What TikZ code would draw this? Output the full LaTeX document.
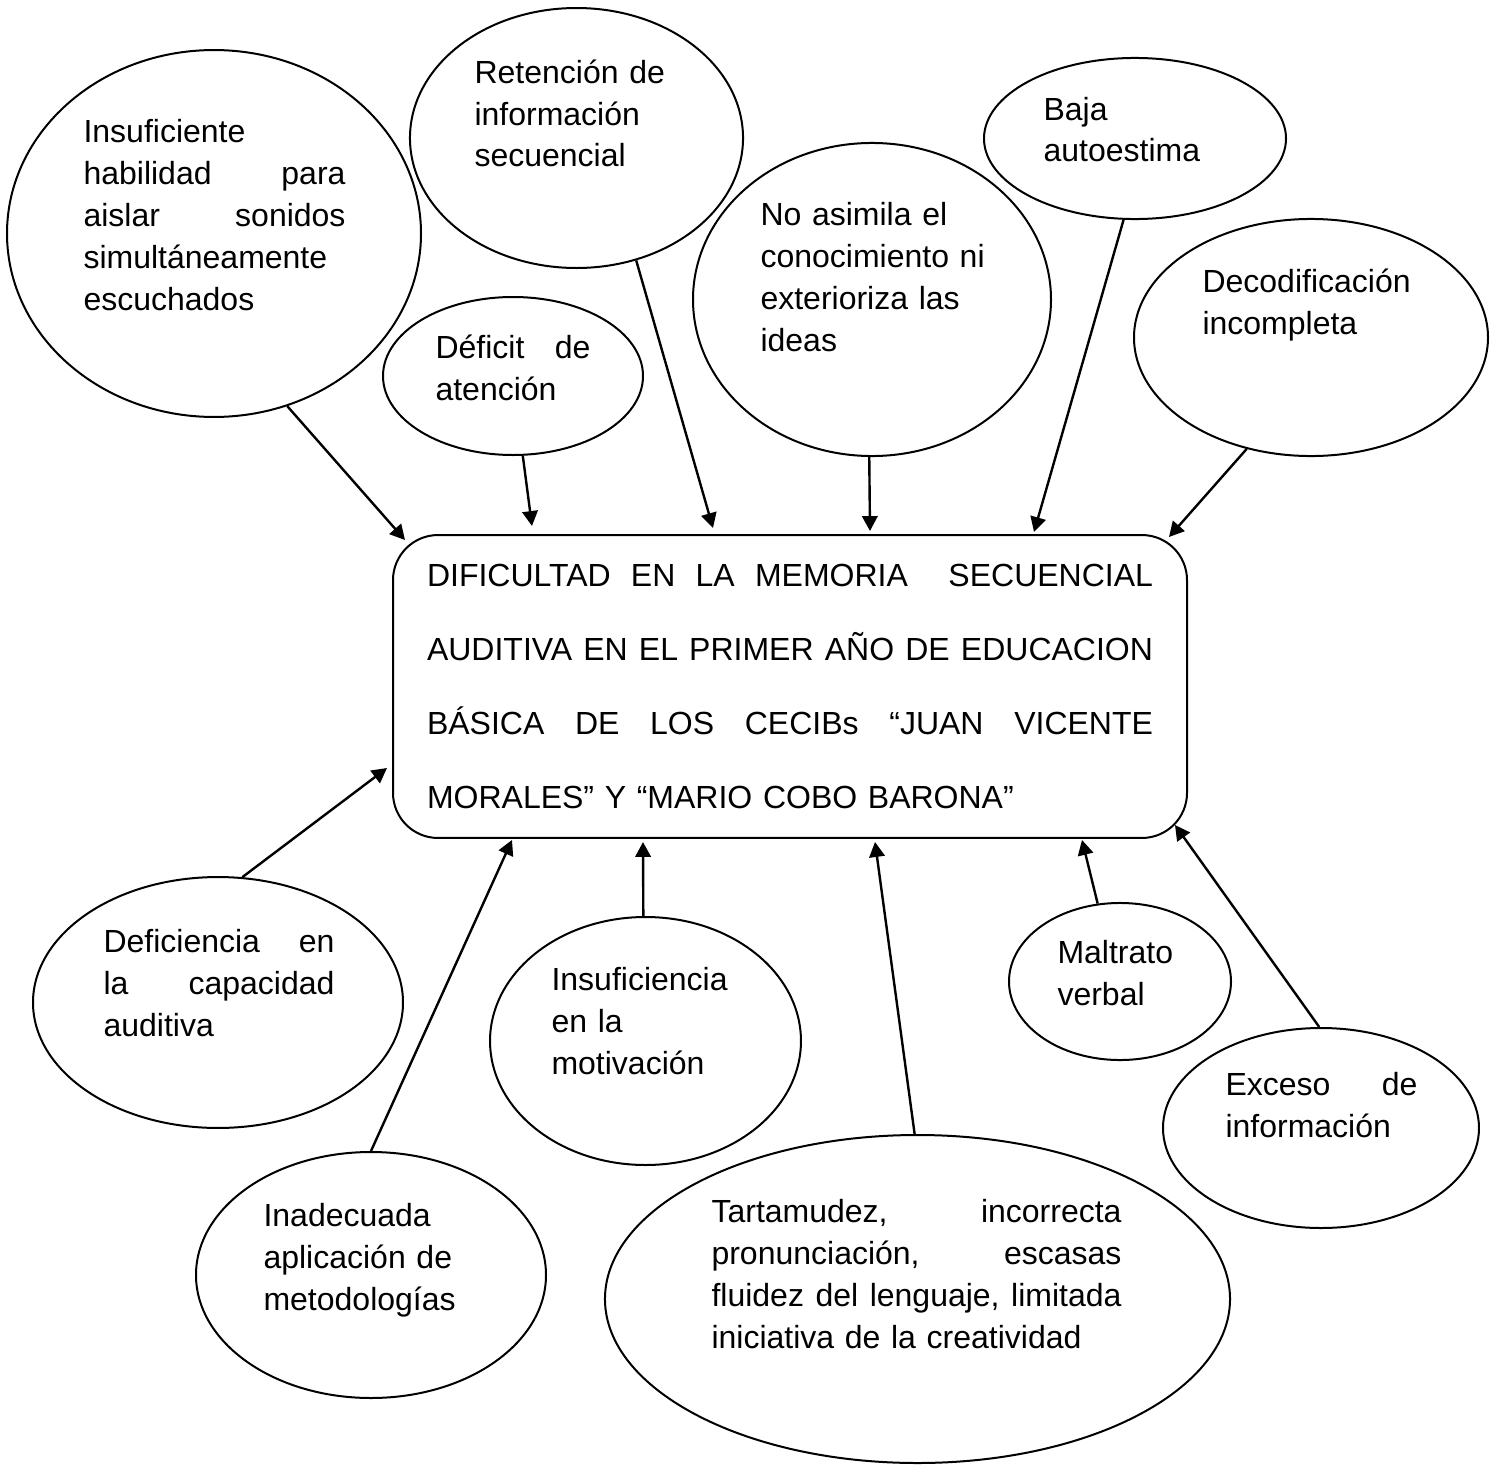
\documentclass[tikz,border=0pt]{standalone}
\usepackage{fontspec}
\setmainfont{Liberation Sans}
\usetikzlibrary{arrows.meta, shapes.geometric}

\begin{document}
\begin{tikzpicture}[
  x=0.375pt, y=-0.375pt,
  cause/.style={ellipse, draw, line width=0.75pt, inner sep=0pt},
  txt/.style={anchor=base west, inner sep=0pt, align=left, text width=110pt, font=\fontsize{12}{15.75}\selectfont},
  box/.style={rectangle, draw, rounded corners=16.9pt, line width=0.75pt, minimum width=297.75pt, minimum height=113.6pt, text width=272.25pt, align=left, font=\fontsize{12}{27.75}\selectfont},
  arrow/.style={-{Triangle[length=5.6pt, width=5.8pt]}, line width=0.9pt}
]
\useasboundingbox (0,0) rectangle (1500,1467);

% central problem
\node[box] (DM) at (790,686.5) {DIFICULTAD\hfill EN\hfill LA\hfill MEMORIA\hfill\hfill SECUENCIAL\\
AUDITIVA\hfill EN\hfill EL\hfill PRIMER\hfill AÑO\hfill DE\hfill EDUCACION\\
BÁSICA\hfill DE\hfill LOS\hfill CECIBs\hfill “JUAN\hfill VICENTE\\
MORALES” Y “MARIO COBO BARONA”};

% causes above the box
\node[cause, minimum width=155.25pt, minimum height=137.6pt] (IH) at (214,233.5) {};
\node[txt, text width=98.25pt] (IHt) at (83,142) {Insuficiente\\ habilidad\hfill para\\ aislar\hfill sonidos\\ simultáneamente\\ escuchados};

\node[cause, minimum width=124.9pt, minimum height=97.5pt] (RI) at (576.5,138) {};
\node[txt] (RIt) at (474,83) {Retención de\\ información\\ secuencial};

\node[cause, minimum width=97.5pt, minimum height=59.25pt] (DA) at (513,376) {};
\node[txt, text width=58.1pt] (DAt) at (435,358) {Déficit\hfill de\\ atención};

\node[cause, minimum width=134.25pt, minimum height=117.4pt] (NA) at (872,299.5) {};
\node[txt] (NAt) at (760,225) {No asimila el\\ conocimiento ni\\ exterioriza las\\ ideas};

\node[cause, minimum width=113.25pt, minimum height=60.4pt] (BA) at (1135,138.5) {};
\node[txt] (BAt) at (1043,120) {Baja\\ autoestima};

\node[cause, minimum width=132.75pt, minimum height=88.9pt] (DI) at (1311,337.5) {};
\node[txt] (DIt) at (1202,292) {Decodificación\\ incompleta};

% causes below the box
\node[cause, minimum width=138.75pt, minimum height=94.1pt] (CA) at (218,1002.5) {};
\node[txt, text width=86.6pt] (CAt) at (103,952) {Deficiencia\hfill en\\ la\hfill capacidad\\ auditiva};

\node[cause, minimum width=116.6pt, minimum height=93pt] (IM) at (645.5,1041) {};
\node[txt] (IMt) at (551,990) {Insuficiencia\\ en la\\ motivación};

\node[cause, minimum width=83.25pt, minimum height=58.9pt] (MV) at (1120,981.5) {};
\node[txt] (MVt) at (1057,963) {Maltrato\\ verbal};

\node[cause, minimum width=118.5pt, minimum height=75pt] (EI) at (1321,1128) {};
\node[txt, text width=72pt] (EIt) at (1225,1095) {Exceso\hfill de\\ información};

\node[cause, minimum width=131.25pt, minimum height=92.25pt] (AM) at (371,1275) {};
\node[txt] (AMt) at (263,1226) {Inadecuada\\ aplicación de\\ metodologías};

\node[cause, minimum width=234.4pt, minimum height=123pt] (TL) at (917.5,1299) {};
\node[txt, text width=153.75pt] (TLt) at (711,1222) {Tartamudez,\hfill incorrecta\\ pronunciación,\hfill escasas\\ fluidez\hfill del\hfill lenguaje,\hfill limitada\\ iniciativa de la creatividad};

% arrow tips next to the box
\coordinate (tIH) at (405,540);
\coordinate (tDA) at (532,526);
\coordinate (tRI) at (713,528);
\coordinate (tNA) at (870,531);
\coordinate (tBA) at (1034,532);
\coordinate (tDI) at (1169,537);
\coordinate (tCA) at (387,768);
\coordinate (tAM) at (512,840);
\coordinate (tIM) at (643,842);
\coordinate (tTL) at (875,842);
\coordinate (tMV) at (1082,840);
\coordinate (tEI) at (1175,825);

\draw[arrow] (IH.-67.7) -- (tIH);
\draw[arrow] (DA.-83) -- (tDA);
\draw[arrow] (RI.-64) -- (tRI);
\draw[arrow] (NA.-91) -- (tNA);
\draw[arrow] (BA.-98.4) -- (tBA);
\draw[arrow] (DI.-120.2) -- (tDI);
\draw[arrow] (CA.79.1) -- (tCA);
\draw[arrow] (AM.90.5) -- (tAM);
\draw[arrow] (IM.91) -- (tIM);
\draw[arrow] (TL.91.9) -- (tTL);
\draw[arrow] (MV.106.3) -- (tMV);
\draw[arrow] (EI.91.7) -- (tEI);
\end{tikzpicture}
\end{document}
